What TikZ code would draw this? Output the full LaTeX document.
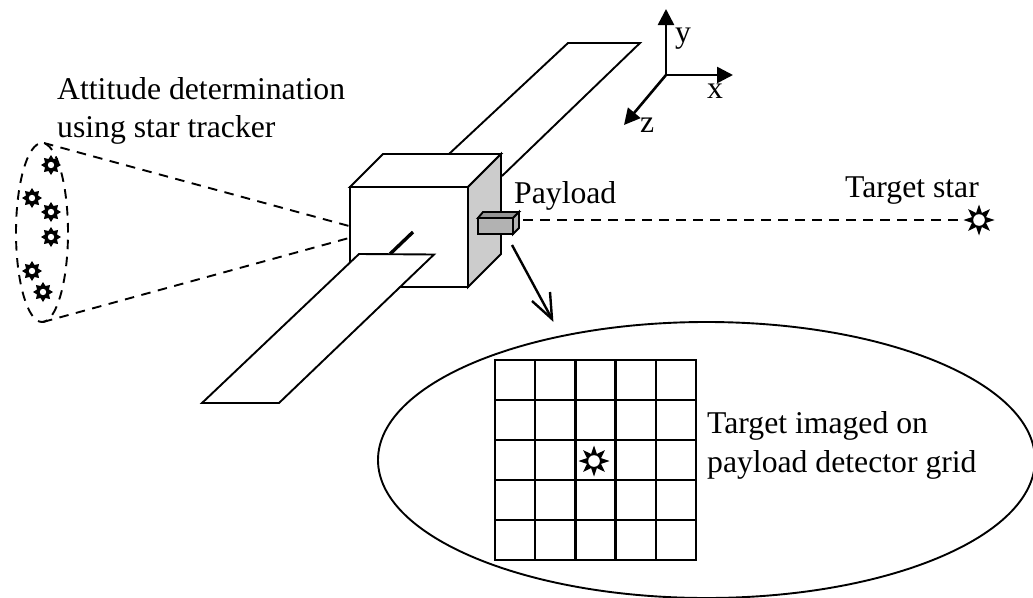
\documentclass[tikz,border=0pt]{standalone}
\usepackage{fontspec}
\setmainfont{Liberation Serif}
\usetikzlibrary{shapes.geometric,arrows.meta}
\tikzset{
  x=1pt,y=-1pt,
  outline/.style={draw=black,line width=1.9pt,line join=miter},
  lbl/.style={anchor=base west,inner sep=0pt,font=\fontsize{31.7}{36}\selectfont,text=black},
  axis/.style={line width=2.6pt,-{Triangle[length=16pt,width=16pt]}},
  dashline/.style={line width=1.9pt,dash pattern=on 9.5pt off 7.5pt},
  starbase/.style={star,star points=8,fill=black,inner sep=0pt},
  smallstar/.style={starbase,star point ratio=1.55,minimum size=20pt,path picture={\fill[white] (path picture bounding box.center) circle (3.2pt);}},
  bigstar/.style={starbase,star point ratio=2.05,minimum size=31pt,path picture={\fill[white] (path picture bounding box.center) circle (5.8pt);}}
}
\begin{document}
\begin{tikzpicture}
\useasboundingbox (0,0) rectangle (1033,597);
% detector ellipse and grid
\node[draw=black,line width=1.9pt,ellipse,minimum width=657pt,minimum height=276pt,inner sep=0pt] (lens) at (706.5,460) {};
\foreach \q in {0,...,5}{
 \draw[line width=2.4pt,line cap=rect] (495+\q*40.2,360) -- (495+\q*40.2,560);
 \draw[line width=2.4pt,line cap=rect] (495,360+\q*40) -- (696,360+\q*40);
}
\node[bigstar] (gridstar) at (594,461) {};
% star field
\node[draw=black,dashline,ellipse,minimum width=52pt,minimum height=179pt,inner sep=0pt] (fov) at (42,232.5) {};
\node[smallstar] (s1) at (51,165) {};
\node[smallstar] (s2) at (32,198) {};
\node[smallstar] (s3) at (51,212) {};
\node[smallstar] (s4) at (51,237) {};
\node[smallstar] (s5) at (32,271) {};
\node[smallstar] (s6) at (43,292) {};
\coordinate (fovtop) at (44,143);
\coordinate (fovbot) at (43,322);
\coordinate (trackA) at (349,226);
\coordinate (trackB) at (349,238);
\draw[dashline] (fovtop) -- (trackA);
\draw[dashline] (fovbot) -- (trackB);
% upper panel
\draw[outline] (449,154) -- (568,43) -- (640,43) -- (502,176);
% cube
\draw[outline,fill=white] (350,187) -- (383,154) -- (501,154) -- (468,187) -- cycle;
\draw[outline,fill=black!20] (468,187) -- (501,154) -- (501,254) -- (468,287) -- cycle;
\draw[outline,fill=white] (350,187) rectangle (468,287);
% rod and lower panel
\draw[line width=3.4pt] (390,254) -- (413,232);
\draw[outline,fill=white] (359,254) -- (434,254.5) -- (279,403) -- (202,403) -- cycle;
% payload
\draw[outline,fill=black!42] (478,218) -- (483,212) -- (519,212) -- (513,218) -- cycle;
\draw[outline,fill=black!30] (513,218) -- (519,212) -- (519,228) -- (513,234) -- cycle;
\draw[outline,fill=black!30] (478,218) rectangle (513,234);
% target line
\node[bigstar] (target) at (979,220) {};
\coordinate (payout) at (523,220);
\draw[dashline] (payout) -- (target);
% pointer arrow
\coordinate (pa) at (512,245);
\coordinate (pb) at (552,319);
\coordinate (pc) at (532,301);
\coordinate (pd) at (550,292);
\draw[line width=2.4pt] (pa) -- (pb);
\draw[line width=2.4pt,line join=miter] (pc) -- (pb) -- (pd);
% axes
\coordinate (origin) at (666,75);
\coordinate (ax) at (733,75);
\coordinate (ay) at (666,9);
\coordinate (az) at (624,125);
\draw[axis] (origin) -- (ax);
\draw[axis] (origin) -- (ay);
\draw[axis] (origin) -- (az);
% labels
\node[lbl] (ly) at (675,42) {y};
\node[lbl] (lx) at (707,98) {x};
\node[lbl] (lz) at (640,132) {z};
\node[lbl] (l1) at (57,99) {Attitude determination};
\node[lbl] (l2) at (57,137) {using star tracker};
\node[lbl] (l3) at (514,203) {Payload};
\node[lbl] (l4) at (845,197) {Target star};
\node[lbl] (l5) at (707,433) {Target imaged on};
\node[lbl] (l6) at (707,472) {payload detector grid};
\end{tikzpicture}
\end{document}
